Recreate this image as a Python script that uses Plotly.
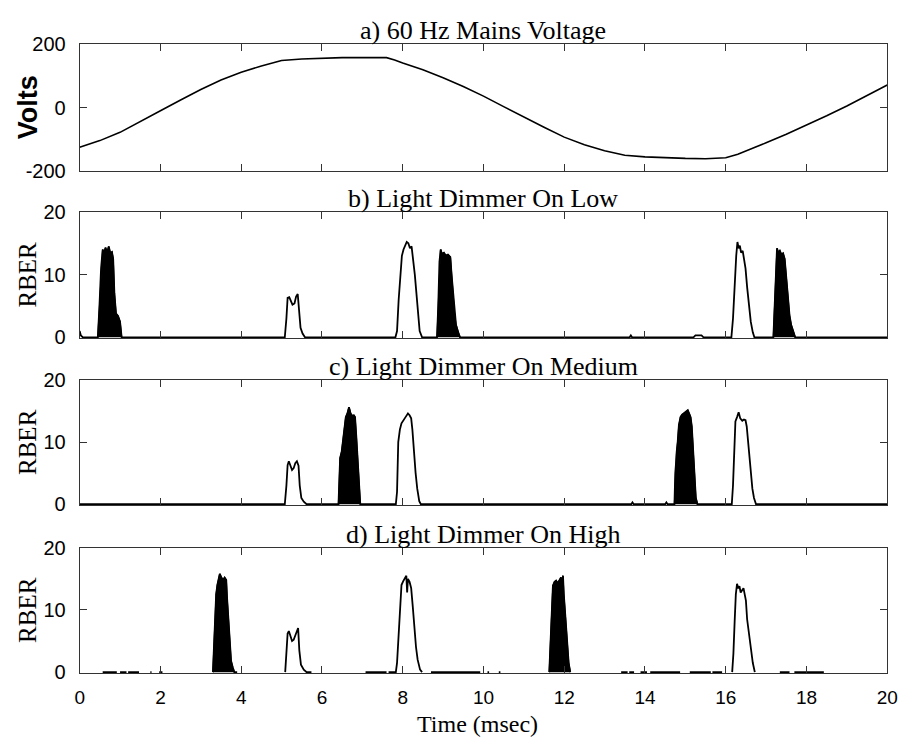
import plotly.graph_objects as go

# ---------------- data ----------------
X_TICKS = [0, 2, 4, 6, 8, 10, 12, 14, 16, 18, 20]
PANEL_TITLES = ["a) 60 Hz Mains Voltage", "b) Light Dimmer On Low",
                "c) Light Dimmer On Medium", "d) Light Dimmer On High"]

volt_t = [0, 0.5, 1.0, 1.5, 2.0, 2.5, 3.0, 3.5, 4.0, 4.5, 5.0, 5.5, 6.0, 6.5, 7.0, 7.5, 7.6, 7.8, 8.0,
          8.5, 9.0, 9.5, 10.0, 10.5, 11.0, 11.5, 12.0, 12.5, 13.0, 13.5, 14.0, 14.5, 15.0, 15.5, 16.0,
          16.3, 16.5, 17.0, 17.5, 18.0, 18.5, 19.0, 19.5, 20.0]
volt_v = [-125, -104, -78, -45, -10, 24, 57, 87, 111, 131, 148, 153, 156, 157, 157, 157, 157, 150, 140,
          119, 94, 66, 36, 3, -30, -62, -93, -117, -136, -150, -155, -158, -160, -161, -158,
          -147, -136, -111, -84, -56, -26, 5, 38, 71]

# panel b: Light dimmer on low
b_t = [0, 0.03, 0.08,
       0.45, 0.49, 0.53, 0.57, 0.60, 0.64, 0.68, 0.72, 0.76, 0.80, 0.83, 0.86, 0.90, 0.95, 1.00, 1.04,
       5.08, 5.12, 5.15, 5.19, 5.22, 5.27, 5.32, 5.36, 5.40, 5.43, 5.47, 5.52, 5.58,
       7.82, 7.86, 7.90, 7.94, 7.98, 8.02, 8.06, 8.10, 8.14, 8.18, 8.22, 8.26, 8.30, 8.34, 8.38, 8.42, 8.48,
       8.85, 8.88, 8.91, 8.94, 8.97, 9.02, 9.07, 9.12, 9.18, 9.21, 9.25, 9.28, 9.32, 9.37, 9.42,
       13.62, 13.65, 13.68, 15.20, 15.25, 15.40, 15.45,
       16.14, 16.18, 16.22, 16.26, 16.29, 16.32, 16.35, 16.38, 16.42, 16.45, 16.49, 16.53, 16.57, 16.62, 16.67, 16.71,
       17.18, 17.21, 17.24, 17.27, 17.30, 17.34, 17.38, 17.42, 17.46, 17.49, 17.52, 17.55, 17.58, 17.62, 17.67, 17.72,
       20]
b_v = [1.0, 0.3, 0,
       0, 5, 11, 14, 13.3, 14.3, 13.5, 14.5, 13.4, 13.6, 12.5, 7, 3.8, 3.4, 2.5, 0,
       0, 3, 6.3, 6.4, 6.0, 5.2, 5.4, 6.5, 6.9, 4, 1.5, 0.6, 0,
       0, 1, 6, 10.5, 13, 14, 14.5, 15.2, 15, 14.2, 14.5, 12.5, 10, 7, 3.5, 1, 0,
       0, 5, 12, 14, 13.3, 13.5, 13, 13.2, 12.8, 10, 7, 4, 2, 0.8, 0,
       0, 0.3, 0, 0, 0.3, 0.3, 0,
       0, 3, 9, 13, 15.2, 14.2, 14.6, 13.5, 13.8, 12.5, 11, 8, 5, 2.5, 0.8, 0,
       0, 5, 11, 14.2, 13.5, 13.8, 13.2, 13.4, 12.5, 10, 7, 4.5, 3.5, 2, 0.8, 0,
       0]
b_fill_spans = [(0.44, 1.05), (8.84, 9.43), (17.17, 17.73)]

# panel c: Light dimmer on medium
c_t = [0,
       5.08, 5.12, 5.15, 5.18, 5.22, 5.26, 5.30, 5.34, 5.38, 5.42, 5.45, 5.49, 5.55, 5.62,
       6.41, 6.43, 6.45, 6.49, 6.52, 6.56, 6.59, 6.63, 6.67, 6.71, 6.75, 6.79, 6.82, 6.85, 6.88, 6.91, 6.95,
       7.83, 7.86, 7.89, 7.93, 7.97, 8.01, 8.05, 8.09, 8.13, 8.17, 8.21, 8.24, 8.28, 8.32, 8.36, 8.41, 8.45,
       13.66, 13.69, 13.72, 14.50, 14.53, 14.56,
       14.73, 14.75, 14.78, 14.81, 14.84, 14.88, 14.92, 14.97, 15.02, 15.06, 15.10, 15.13, 15.16, 15.19, 15.22, 15.26, 15.30,
       16.15, 16.18, 16.21, 16.24, 16.28, 16.32, 16.36, 16.41, 16.45, 16.49, 16.52, 16.55, 16.58, 16.62, 16.66, 16.70, 16.75,
       20]
c_v = [0,
       0, 3, 6.3, 6.9, 6.2, 5.5, 5.8, 6.6, 6.9, 6.2, 3, 1, 0.4, 0,
       0, 4, 7.4, 8.5, 10, 12.5, 14, 14.6, 15.6, 14.6, 14.2, 14.3, 14, 11, 7.5, 3, 0,
       0, 2, 10, 12, 13, 13.5, 13.8, 14.2, 14.6, 14.3, 13.8, 12, 8, 5, 2.5, 0.5, 0,
       0, 0.3, 0, 0, 0.3, 0,
       0, 5, 8.5, 10, 12.7, 14, 14.4, 14.6, 14.8, 15.1, 14.5, 14, 12.5, 9, 5, 1, 0,
       0, 3, 9, 13.3, 14, 14.8, 13.8, 13.4, 13.6, 13.5, 12.5, 10.5, 8, 5, 2.5, 1, 0,
       0]
c_fill_spans = [(6.40, 6.96), (14.72, 15.31)]

# panel d: Light dimmer on high (baseline only partly present)
d_t = [0.57, 0.92, None, 1.00, 1.16, None, 1.20, 1.47, None, 1.75, 1.78, None, 1.97, 2.05, None,
       3.30, 3.32, 3.35, 3.38, 3.41, 3.45, 3.47, 3.51, 3.55, 3.59, 3.63, 3.65, 3.68, 3.71, 3.75, 3.79, 3.83, 3.90, None,
       5.09, 5.12, 5.15, 5.18, 5.22, 5.26, 5.30, 5.34, 5.38, 5.41, 5.44, 5.48, 5.55, 5.62, 5.74, None,
       7.08, 7.60, None, 7.65,
       7.83, 7.86, 7.90, 7.94, 7.97, 8.01, 8.05, 8.09, 8.11, 8.13, 8.17, 8.21, 8.25, 8.29, 8.33, 8.37, 8.43, 8.48, None,
       8.70, 9.92, None, 10.10, 10.14, None, 10.38, 10.42, None,
       11.63, 11.66, 11.69, 11.72, 11.76, 11.80, 11.84, 11.88, 11.92, 11.95, 11.97, 11.99, 12.02, 12.05, 12.08, 12.11, 12.15, None,
       13.41, 13.57, None, 13.61, 13.73, None, 13.89, 14.05, None, 14.13, 14.87, None, 15.11, 15.63, None, 15.67, 15.91, None,
       16.16, 16.19, 16.22, 16.25, 16.28, 16.31, 16.34, 16.37, 16.41, 16.44, 16.47, 16.50, 16.53, 16.56, 16.59, 16.63, 16.67, 16.72, None,
       17.34, 17.58, None, 17.70, 18.43]
d_v = [0, 0, None, 0, 0, None, 0, 0, None, 0, 0, None, 0, 0, None,
       0, 4, 8, 12.5, 14, 15, 15.8, 15.2, 14.8, 15.2, 14.8, 12, 8.5, 4.5, 1.8, 0.8, 0, 0, None,
       0, 3, 6.2, 6.6, 5.8, 5, 5.2, 5.8, 6.5, 7.1, 3.5, 1.2, 0.4, 0, 0, None,
       0, 0, None, 0,
       0, 1.5, 6, 11, 14, 14.6, 15, 15.5, 12.8, 15, 14.5, 13.5, 10.5, 7, 4, 2, 0.4, 0, None,
       0, 0, None, 0, 0, None, 0, 0, None,
       0, 4, 9, 13.9, 14.5, 14.7, 14.3, 14.8, 15.2, 14.5, 15.5, 12.5, 10, 7, 4.5, 1.5, 0, None,
       0, 0, None, 0, 0, None, 0, 0, None, 0, 0, None, 0, 0, None, 0, 0, None,
       0, 3, 8, 12.5, 14.2, 13.5, 13.8, 12.8, 13.2, 13.5, 12.5, 11.5, 8.5, 7, 5, 3, 1.5, 0, None,
       0, 0, None, 0, 0]
d_fill_spans = [(3.29, 3.84), (11.62, 12.16)]

# ---------------- figure ----------------
W, H = 912, 746
X0, X1 = 76, 898
PANELS_PX = [(34, 165), (207, 337), (380, 509), (553, 682)]  # (top, bottom) in px

AXC = "#333333"
SERIF = "Liberation Serif, Times New Roman, serif"
SANS = "Liberation Sans, Arial, sans-serif"

fig = go.Figure()

def add_line(t, v, k, width=1.4):
    fig.add_trace(go.Scatter(x=t, y=v, mode="lines", line=dict(color="black", width=width),
                             xaxis=f"x{k}" if k > 1 else "x", yaxis=f"y{k}" if k > 1 else "y",
                             hoverinfo="skip", showlegend=False, connectgaps=False))

def add_fills(t, v, spans, k):
    for lo, hi in spans:
        ft = [a for a, b in zip(t, v) if a is not None and lo <= a <= hi]
        fv = [b for a, b in zip(t, v) if a is not None and lo <= a <= hi]
        fig.add_trace(go.Scatter(x=ft, y=fv, mode="lines", fill="tozeroy", fillcolor="black",
                                 line=dict(color="black", width=1.3),
                                 xaxis=f"x{k}", yaxis=f"y{k}", hoverinfo="skip", showlegend=False))

add_line(volt_t, volt_v, 1, width=1.6)
add_line(b_t, b_v, 2, width=1.8)
add_fills(b_t, b_v, b_fill_spans, 2)
add_line(c_t, c_v, 3, width=1.8)
add_fills(c_t, c_v, c_fill_spans, 3)
add_line(d_t, d_v, 4, width=1.8)
add_fills(d_t, d_v, d_fill_spans, 4)

layout = dict(width=W, height=H, margin=dict(l=0, r=0, t=0, b=0),
              paper_bgcolor="white", plot_bgcolor="white", showlegend=False)

annotations = []
for i, (top, bot) in enumerate(PANELS_PX):
    k = i + 1
    xs = "xaxis" if k == 1 else f"xaxis{k}"
    ys = "yaxis" if k == 1 else f"yaxis{k}"
    ydom = [1 - bot / H, 1 - top / H]
    layout[xs] = dict(domain=[X0 / W, X1 / W], range=[0, 20], tickvals=X_TICKS,
                      showticklabels=(k == 4), ticks="inside", ticklen=7, tickcolor=AXC,
                      showline=True, linecolor=AXC, linewidth=1, mirror="ticks",
                      showgrid=False, zeroline=False, anchor="y" if k == 1 else f"y{k}",
                      tickfont=dict(family=SANS, size=19, color="black"),
                      ticklabelstandoff=7, fixedrange=True)
    if k == 1:
        yt, ytt, yr = [-200, 0, 200], ["-200", "0", "200"], [-200, 200]
    else:
        yt, ytt, yr = [0, 10, 20], ["0", "10", "20"], [-0.12, 20]
    layout[ys] = dict(domain=ydom, range=yr, tickvals=yt, ticktext=ytt,
                      ticks="inside", ticklen=7, tickcolor=AXC,
                      showline=True, linecolor=AXC, linewidth=1, mirror="ticks",
                      showgrid=False, zeroline=False, anchor="x" if k == 1 else f"x{k}",
                      tickfont=dict(family=SANS, size=20, color="black"),
                      ticklabelstandoff=9, fixedrange=True)
    annotations.append(dict(text=PANEL_TITLES[i], xref="paper", yref="paper",
                            x=(X0 + X1) / 2 / W, y=1 - top / H, xanchor="center", yanchor="bottom",
                            showarrow=False, yshift=-3,
                            font=dict(family=SERIF, size=26, color="black")))
    ylabel = "Volts" if k == 1 else "RBER"
    annotations.append(dict(text=f"<b>{ylabel}</b>" if k == 1 else ylabel,
                            xref="paper", yref="paper",
                            x=23 / W, y=1 - (top + bot) / 2 / H, xanchor="center", yanchor="middle",
                            textangle=-90, showarrow=False,
                            font=dict(family=SANS if k == 1 else SERIF, size=27 if k == 1 else 25,
                                      color="black")))

annotations.append(dict(text="Time (msec)", xref="paper", yref="paper", x=481 / W, y=0,
                        xanchor="center", yanchor="bottom", showarrow=False, borderpad=0, yshift=-3,
                        font=dict(family=SERIF, size=24, color="black")))
layout["annotations"] = annotations
fig.update_layout(**layout)

fig.write_html("out.html")
